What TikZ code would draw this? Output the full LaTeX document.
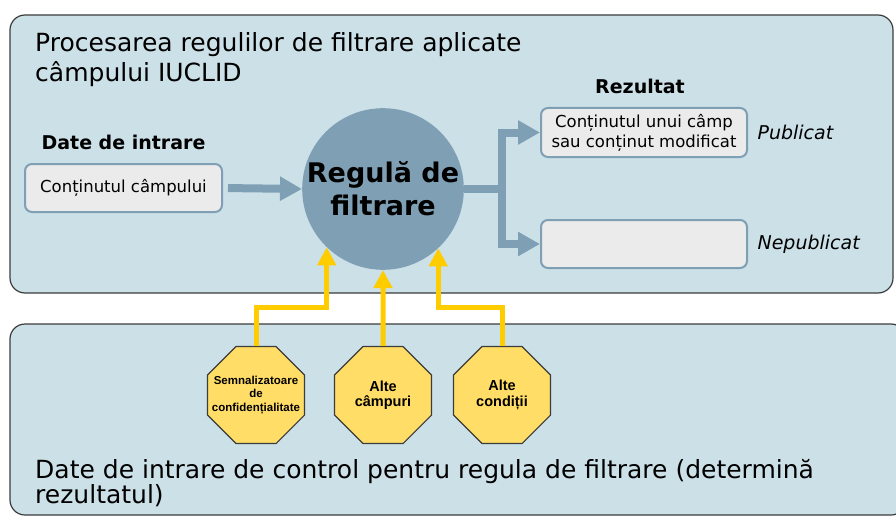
\documentclass[tikz,border=0pt]{standalone}
\usepackage{fontspec}
\setmainfont{DejaVu Sans}
\newfontfamily\octfont{Liberation Sans}
\usetikzlibrary{shapes.geometric, arrows.meta, positioning}
\definecolor{panelblue}{RGB}{204,224,232}
\definecolor{rulegray}{RGB}{127,159,180}
\definecolor{boxgray}{RGB}{235,235,235}
\definecolor{octyellow}{RGB}{255,221,102}
\definecolor{arrowyellow}{RGB}{255,204,0}
\definecolor{edgegray}{RGB}{60,60,60}
\tikzstyle{panel} = [draw=edgegray, line width=1.2pt, fill=panelblue, rounded corners=15pt]
\tikzstyle{process} = [rectangle, rounded corners=7pt, draw=rulegray, line width=2pt, fill=boxgray, align=center, inner sep=0pt, font=\fontsize{16.5}{20}\selectfont]
\tikzstyle{filterrule} = [circle, minimum size=160pt, inner sep=0pt, fill=rulegray, align=center, font=\bfseries\fontsize{27}{33}\selectfont]
\tikzstyle{octagon} = [regular polygon, regular polygon sides=8, minimum size=105pt, inner sep=-4pt, draw=edgegray, line width=1.2pt, fill=octyellow, align=center, font=\octfont\bfseries\fontsize{14.5}{15.5}\selectfont]
\tikzstyle{heading} = [font=\bfseries\fontsize{19}{22}\selectfont]
\tikzstyle{status} = [font=\itshape\fontsize{19}{22}\selectfont]
\tikzstyle{caption} = [anchor=base west, inner sep=0pt, align=left]
\tikzstyle{bluearrow} = [line width=8pt, draw=rulegray, -{Triangle[width=23pt,length=22pt]}]
\tikzstyle{blueline} = [line width=8pt, draw=rulegray]
\tikzstyle{yellowarrow} = [line width=5pt, draw=arrowyellow, -{Triangle[width=18pt,length=18pt]}]

\begin{document}
\begin{tikzpicture}[x=1pt, y=-1pt]
        \useasboundingbox (0,0) rectangle (896,516);
        % Panels
        \draw [panel] (10,15) rectangle (893,293);
        \draw [panel] (10,324) rectangle (906,515);
        \node (title) [caption, font=\fontsize{25}{30}\selectfont] at (35,82) {Procesarea regulilor de filtrare aplicate\\câmpului IUCLID};
        \node (ctrltitle) [caption, font=\fontsize{25}{25}\selectfont] at (35,503) {Date de intrare de control pentru regula de filtrare (determină\\rezultatul)};

        % Input, rule and results
        \node (input) [process, minimum width=197pt, minimum height=48pt] at (123.5,188) {Conținutul câmpului};
        \node (inlabel) [heading, above=10pt of input] {Date de intrare};
        \node (filter) [filterrule] at (383,189) {Regulă de\\filtrare};
        \coordinate (split) at (502,189);
        \node (out1) [process, minimum width=206pt, minimum height=49pt] at (644,132.5) {Conținutul unui câmp\\sau conținut modificat};
        \node (out2) [process, minimum width=206pt, minimum height=48pt] at (644,244) {};
        \node (reslabel) [heading, above=10pt of out1, xshift=-4pt] {Rezultat};
        \node (pub) [status, right=6pt of out1] {Publicat};
        \node (unpub) [status, right=6pt of out2] {Nepublicat};

        % Control inputs
        \node (flags) [octagon, inner sep=-14pt, font=\octfont\bfseries\fontsize{11.5}{13.5}\selectfont] at (256,395) {Semnalizatoare\\de\\confidențialitate};
        \node (fields) [octagon] at (383,395) {Alte\\câmpuri};
        \node (conds) [octagon] at (502,395) {Alte\\condiții};
        \coordinate (elbow) at (0,307);

        % Arrows for data path
        \draw [bluearrow, shorten <=5pt] (input.east) -- (filter.west);
        \draw [blueline] (filter.east) -- (split);
        \draw [bluearrow] (split) |- (out1.west);
        \draw [bluearrow] (split) |- (out2.west);

        % Control arrows
        \draw [yellowarrow] (flags.north) |- (filter.226 |- elbow) -- (filter.226);
        \draw [yellowarrow] (fields.north) -- (filter.south);
        \draw [yellowarrow] (conds.north) |- (filter.313 |- elbow) -- (filter.313);
    \end{tikzpicture}
\end{document}
